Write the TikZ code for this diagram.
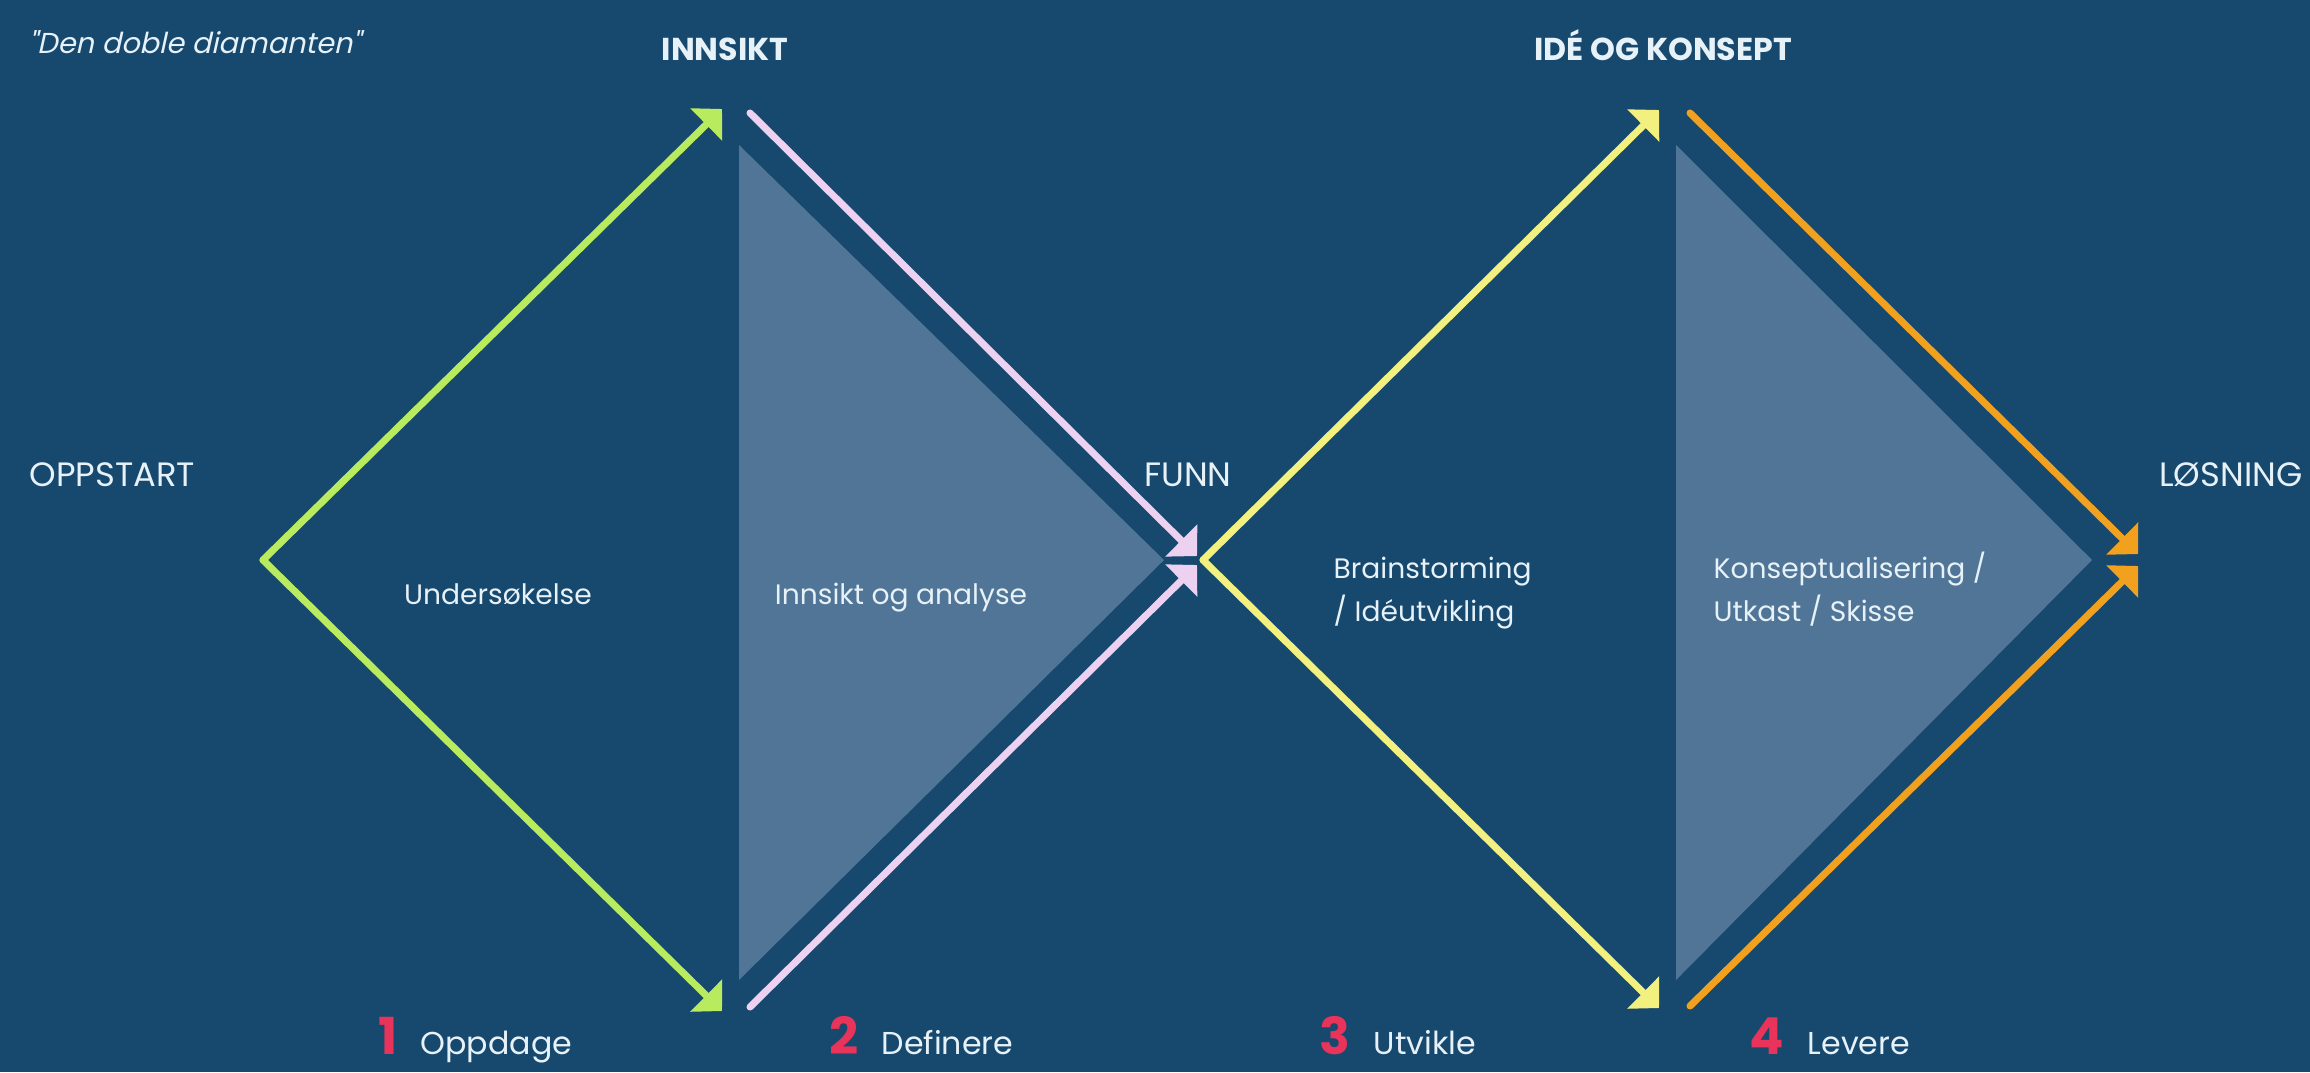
\documentclass[tikz,border=0pt]{standalone}
\usepackage{fontspec}
\setmainfont{Poppins}
\newfontfamily\slfont[FakeSlant=0.22]{Poppins}
\usetikzlibrary{arrows.meta}
\definecolor{bgcol}{HTML}{17486E}
\definecolor{shadecol}{HTML}{507596}
\definecolor{cgreen}{HTML}{B8EB5E}
\definecolor{cpink}{HTML}{ECD2F0}
\definecolor{cyellow}{HTML}{F2F07E}
\definecolor{corange}{HTML}{F2A11E}
\definecolor{txt}{HTML}{E6F1F8}
\definecolor{numred}{HTML}{E8335A}
\tikzset{
  conn/.style={line width=2pt, line cap=round, -{Triangle[length=6.3pt 0 0, width=12.6pt 0 0]}},
  capslabel/.style={text=txt, font=\fontsize{9.6}{11}\selectfont, inner sep=0pt, anchor=base west},
  headlabel/.style={text=txt, font=\fontsize{9}{11}\selectfont\bfseries, inner sep=0pt, anchor=base},
  bodylabel/.style={text=txt, font=\fontsize{8}{12}\selectfont, inner sep=0pt},
  steplabel/.style={text=txt, font=\fontsize{9}{11}\selectfont, inner sep=0pt, anchor=base west},
  numlabel/.style={text=numred, font=\fontsize{14.5}{16}\selectfont\bfseries, inner sep=0pt, anchor=base east},
}
\begin{document}
\begin{tikzpicture}[x=0.01cm,y=-0.01cm]
\fill[bgcol] (0,0) rectangle (2310,1072);
\useasboundingbox (0,0) rectangle (2310,1072);
% shaded triangles
\fill[shadecol] (739,145) -- (739,980) -- (1164,560) -- cycle;
\fill[shadecol] (1676,145) -- (1676,980) -- (2092,560) -- cycle;
% coordinates
\coordinate (g0) at (263,560);
\coordinate (g1) at (722,109);
\coordinate (g2) at (722,1011);
\coordinate (p1) at (750,113);
\coordinate (p2) at (750,1007);
\coordinate (pt) at (1197,556);
\coordinate (pb) at (1197,565);
\coordinate (y0) at (1203,560);
\coordinate (y1) at (1659,110);
\coordinate (y2) at (1659,1008);
\coordinate (o1) at (1690,113);
\coordinate (o2) at (1690,1006);
\coordinate (ot) at (2138,554);
\coordinate (ob) at (2138,566);
% connectors
\draw[conn, cgreen] (g0) -- (g1);
\draw[conn, cgreen] (g0) -- (g2);
\draw[conn, cpink] (p1) -- (pt);
\draw[conn, cpink] (p2) -- (pb);
\draw[conn, cyellow] (y0) -- (y1);
\draw[conn, cyellow] (y0) -- (y2);
\draw[conn, corange] (o1) -- (ot);
\draw[conn, corange] (o2) -- (ob);
% labels
\node[text=txt, font=\fontsize{8.2}{10}\selectfont\slfont, inner sep=0pt, anchor=base west] (title) at (28,53) {"Den doble diamanten"};
\node[headlabel] (innsikt) at (725,60) {INNSIKT};
\node[headlabel] (ide) at (1663,60) {IDÉ OG KONSEPT};
\node[capslabel] (oppstart) at (29,486) {OPPSTART};
\node[capslabel, anchor=base] (funn) at (1188,486) {FUNN};
\node[capslabel, anchor=base east] (losning) at (2303,486) {LØSNING};
\node[bodylabel, anchor=base] (unders) at (498,604) {Undersøkelse};
\node[bodylabel, anchor=base] (innanalyse) at (901,604) {Innsikt og analyse};
\node[bodylabel, anchor=base west, align=left] (brain) at (1333,621) {Brainstorming\\/ Idéutvikling};
\node[bodylabel, anchor=base west, align=left] (konsept) at (1713,621) {Konseptualisering /\\Utkast / Skisse};
\node[steplabel] (s1) at (420,1054) {Oppdage};
\node[numlabel] (n1) at ([xshift=-0.22cm]s1.base west) {1};
\node[steplabel] (s2) at (881,1054) {Definere};
\node[numlabel] (n2) at ([xshift=-0.22cm]s2.base west) {2};
\node[steplabel] (s3) at (1373,1054) {Utvikle};
\node[numlabel] (n3) at ([xshift=-0.22cm]s3.base west) {3};
\node[steplabel] (s4) at (1807,1054) {Levere};
\node[numlabel] (n4) at ([xshift=-0.22cm]s4.base west) {4};
\end{tikzpicture}
\end{document}
